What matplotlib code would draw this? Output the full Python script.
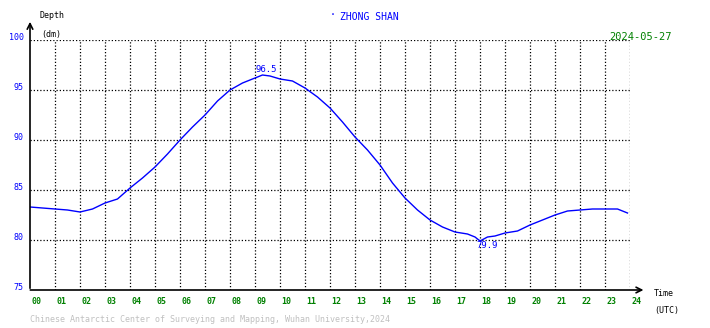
import matplotlib
matplotlib.use('Agg')

import matplotlib.pyplot as plt
import numpy as np

# --- Data ---
hours = [0.0, 0.5, 1.0, 1.5, 2.0, 2.5, 3.0, 3.5, 4.0, 4.5, 5.0, 5.5, 6.0, 6.5,
         7.0, 7.5, 8.0, 8.5, 9.0, 9.3, 9.6, 10.0, 10.5, 11.0, 11.5, 12.0, 12.5,
         13.0, 13.5, 14.0, 14.5, 15.0, 15.5, 16.0, 16.5, 17.0, 17.5, 17.8, 18.0,
         18.3, 18.6, 19.0, 19.5, 20.0, 20.5, 21.0, 21.5, 22.0, 22.5, 23.0, 23.5, 23.9]
depth = [83.3, 83.2, 83.1, 83.0, 82.8, 83.1, 83.7, 84.1, 85.2, 86.2, 87.3, 88.6, 90.0, 91.3,
         92.5, 93.9, 95.0, 95.7, 96.2, 96.5, 96.4, 96.1, 95.9, 95.2, 94.3, 93.2, 91.8,
         90.3, 89.0, 87.5, 85.7, 84.2, 83.0, 82.0, 81.3, 80.8, 80.6, 80.3, 79.9,
         80.3, 80.4, 80.7, 80.9, 81.5, 82.0, 82.5, 82.9, 83.0, 83.1, 83.1, 83.1, 82.7]
x_ticks = list(range(0, 25))
x_labels = ['%02d' % h for h in x_ticks]
y_ticks = [75, 80, 85, 90, 95, 100]
station = 'ZHONG SHAN'
date_str = '2024-05-27'
max_label = '96.5'
min_label = '79.9'
footer = 'Chinese Antarctic Center of Surveying and Mapping, Wuhan University,2024'

mono = 'DejaVu Sans Mono'
green = '#008000'
blue = '#0000ff'

fig = plt.figure(figsize=(7.10, 3.28), dpi=100)
ax = fig.add_axes([30 / 710, 1 - 290 / 328, 600 / 710, 250 / 328])
ax.set_xlim(0, 24)
ax.set_ylim(75, 100)
ax.axis('off')

# dotted grid
for h in x_ticks[1:]:
    ax.plot([h, h], [75, 100], color='black', lw=0.9, ls=(0, (1, 1.6)))
for v in y_ticks[1:]:
    ax.plot([0, 24], [v, v], color='black', lw=0.9, ls=(0, (1, 1.6)))

# axes with arrows
ax.annotate('', xy=(24.65, 75), xytext=(-0.1, 75), annotation_clip=False,
            arrowprops=dict(arrowstyle='->', color='black', lw=1.2))
ax.annotate('', xy=(0, 102.1), xytext=(0, 74.9), annotation_clip=False,
            arrowprops=dict(arrowstyle='->', color='black', lw=1.2))

ax.plot(hours, depth, color=blue, lw=1.0)

# tick labels
for h, lab in zip(x_ticks, x_labels):
    ax.text(h + 0.05, 73.9, lab, color=green, fontsize=6, family=mono,
            fontweight='bold', ha='left', va='center')
for v in y_ticks:
    ax.text(-0.25, v + 0.2, str(v), color=blue, fontsize=6, family=mono,
            ha='right', va='center')

# extreme labels
i_max = int(np.argmax(depth))
i_min = int(np.argmin(depth))
ax.text(hours[i_max] + 0.15, depth[i_max] + 0.1, max_label, color=blue, fontsize=6.5,
        family=mono, ha='center', va='bottom')
ax.text(hours[i_min] + 0.3, depth[i_min] - 0.05, min_label, color=blue, fontsize=6.5,
        family=mono, ha='center', va='top')

# titles and labels
fig.text(40 / 710, 1 - 16 / 328, 'Depth', fontsize=6, family=mono, va='center')
fig.text(41 / 710, 1 - 34 / 328, '(dm)', fontsize=6, family=mono, va='center')
fig.text(330 / 710, 1 - 15 / 328, '\u00b7', color=blue, fontsize=7, family=mono, va='center')
fig.text(340 / 710, 1 - 17 / 328, station, color=blue, fontsize=7, family=mono, va='center')
fig.text(672 / 710, 1 - 37 / 328, date_str, color=green, fontsize=7.5, family=mono,
         ha='right', va='center')
fig.text(654 / 710, 1 - 294 / 328, 'Time', fontsize=6, family=mono, va='center')
fig.text(654 / 710, 1 - 310 / 328, '(UTC)', fontsize=6, family=mono, va='center')
fig.text(30 / 710, 1 - 320 / 328, footer, color='#c0c0c0', fontsize=6, family=mono,
         va='center')

plt.savefig('out.png', dpi=100)
